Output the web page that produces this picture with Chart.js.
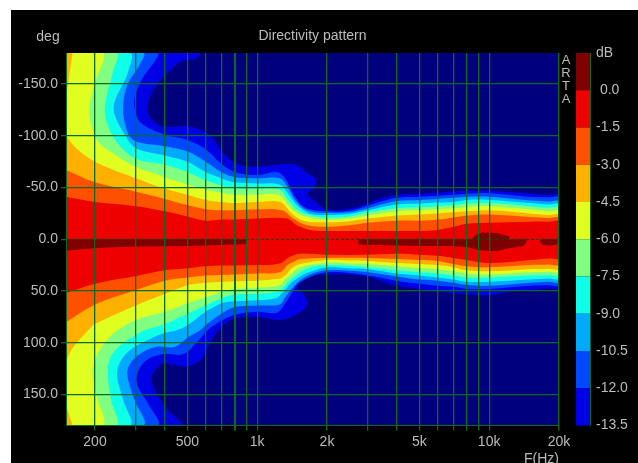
<!DOCTYPE html>
<html>
<head>
<meta charset="utf-8">
<title>Directivity pattern</title>
<script src="https://cdn.jsdelivr.net/npm/chart.js"></script>
<style>
  html, body { margin: 0; padding: 0; background: #fff; }
  #wrap { position: absolute; left: 11px; top: 10px; width: 627px; height: 453px; background: #000; }
</style>
</head>
<body>
<div id="wrap"><canvas id="chart" width="627" height="453"></canvas></div>
<script>
const xTickValues = [200,300,400,500,600,700,800,900,1000,2000,3000,4000,5000,6000,7000,8000,9000,10000,20000];
const xTickLabels = { 200:"200", 500:"500", 1000:"1k", 2000:"2k", 5000:"5k", 10000:"10k", 20000:"20k" };
const yTickValues = [-150,-100,-50,0,50,100,150];
const dbLevels = [0,-1.5,-3,-4.5,-6,-7.5,-9,-10.5,-12,-13.5];
const bandColors = ["#7f0000","#ee0000","#ff5000","#ffb000","#e0ff20","#80ff80","#10ffe8","#00aaff","#0048ff","#0000e6"];

// contour edges, [Hz, deg], low frequency side first
const up135 = [[150,-180],[562,-180],[548,-175],[472,-172],[407,-160],[356,-144],[339,-131],[345,-118],[393,-109],[513,-109],[625,-100],[714,-83],[815,-73],[993,-70],[1212,-72],[1483,-71.6],[1687,-62],[1778,-59],[1772,-50],[1637,-44],[1744,-38],[2000,-29],[2500,-29.5],[3000,-34.5],[3500,-40],[4000,-43],[5000,-44],[6000,-45],[7000,-46],[8000,-47],[10000,-47],[15000,-44],[18000,-43],[20000,-42.5]];
const low135 = [[150,180],[472,180],[407,164],[362,146],[350,133],[368,125],[393,120],[496,123],[575,116],[605,106],[690,86],[788,77],[993,75],[1257,78],[1503,72],[1643,62],[1558,51],[1483,47.7],[1558,41],[1744,35],[2000,34],[2500,34],[3000,36],[3500,41],[4000,45],[5000,48],[6000,50],[7000,52],[8000,53],[10000,54],[12000,51],[15000,49],[18000,47.5],[20000,47]];
const up120 = [[150,-180],[372,-180],[362,-172],[323,-157],[297,-138],[297,-125],[317,-112],[400,-101],[500,-96],[600,-87],[700,-73],[800,-65],[1000,-62],[1216,-65],[1320,-59],[1430,-44],[1600,-31],[2000,-27],[2500,-27.5],[3000,-32.5],[3500,-37],[4000,-40],[5000,-41],[6000,-42],[7000,-43],[8000,-44],[10000,-44.5],[15000,-41],[18000,-40.5],[20000,-40]];
const low120 = [[150,180],[372,180],[339,159],[307,143],[304,130],[333,117],[393,111],[480,111],[557,98],[625,86],[788,73.5],[1000,70],[1212,71],[1320,62],[1434,49],[1503,43],[1693,36.5],[2000,32],[2500,32.5],[3000,35],[4000,40],[5000,43],[6000,45],[7000,46],[8000,48],[10000,48],[15000,45],[18000,44.5],[20000,44]];
const up105 = [[150,-180],[323,-180],[312,-169],[278,-151],[265,-132],[269,-112],[292,-96],[400,-90],[500,-85],[600,-75],[700,-65],[800,-60],[1000,-59],[1250,-59],[1342,-52],[1458,-38],[1637,-28],[2000,-25.5],[2500,-26],[3000,-30],[4000,-37],[5000,-38],[6000,-39],[7000,-40],[8000,-41],[10000,-41],[15000,-37.5],[18000,-36.5],[20000,-36]];
const low105 = [[150,180],[323,180],[297,156],[278,136],[278,124],[307,112],[368,104],[442,104],[505,94.5],[566,88],[600,83],[700,72],[800,65.5],[1000,64],[1250,63],[1320,56],[1411,47.6],[1503,41],[1693,34],[2000,30],[2500,30.5],[3000,32],[4000,36],[5000,39],[6000,40],[7000,42],[8000,44],[10000,45],[15000,42],[18000,41],[20000,40.5]];
const up90 = [[150,-180],[283,-180],[278,-162],[243,-133],[243,-120],[269,-101],[300,-88],[400,-81],[500,-75],[600,-65],[700,-59],[800,-55],[1000,-54],[1250,-53],[1360,-44],[1483,-33],[1670,-25],[2000,-23.5],[2500,-24.5],[3000,-28],[4000,-33.5],[5000,-34.5],[6000,-35.5],[7000,-36],[8000,-38],[10000,-38],[15000,-35],[18000,-33.5],[20000,-33]];
const low90 = [[150,180],[283,180],[265,156],[249,132],[256,119],[283,107],[333,98],[393,91],[449,88],[500,83],[600,70],[700,62],[800,60],[1000,59],[1200,57],[1295,51],[1388,43],[1483,38],[1670,32],[2000,27],[2500,28],[3000,29],[4000,33],[5000,35],[6000,37],[7000,39],[8000,41],[10000,41],[15000,39],[18000,38],[20000,37.5]];
const up75 = [[150,-180],[248,-180],[239,-162],[221,-130],[224,-114],[248,-94],[300,-78],[400,-72],[500,-65],[600,-57],[700,-52],[800,-49],[1000,-49],[1250,-48],[1360,-38],[1503,-28],[1693,-23],[2000,-21],[2500,-22],[3000,-26],[4000,-30],[5000,-31],[6000,-32],[7000,-33],[8000,-34.5],[10000,-35],[15000,-32],[18000,-30.5],[20000,-30]];
const low75 = [[150,180],[248,180],[235,156],[227,130],[232,115],[256,103],[297,93],[328,88],[400,82],[500,72],[600,64],[700,57],[800,53.5],[1000,52.6],[1250,50],[1320,44.5],[1411,38],[1532,32],[1693,27],[2000,25],[2500,25.5],[3000,27],[4000,30],[5000,32],[6000,33],[7000,35],[8000,37],[10000,37],[15000,35],[18000,34.5],[20000,34]];
const up60 = [[150,-180],[217,-180],[200,-152],[189,-126],[193,-110],[207,-94],[239,-83],[300,-70],[400,-60],[500,-53],[600,-48],[700,-45],[800,-43],[1000,-43],[1250,-42.5],[1388,-31],[1558,-23],[2000,-19],[2500,-20],[3000,-23],[4000,-27],[5000,-28],[6000,-29],[7000,-30],[8000,-31],[10000,-32],[15000,-29],[18000,-27],[20000,-26.5]];
const low60 = [[150,180],[217,180],[204,153],[195,130],[198,120],[210,107],[240,91],[300,78],[400,70],[500,62],[600,56],[700,51],[800,48],[1000,47],[1250,44.5],[1320,39],[1411,33],[1532,27],[2000,23],[2500,23.5],[3000,24],[4000,26],[5000,28],[6000,29],[7000,31],[8000,33],[10000,34],[15000,32],[18000,31.5],[20000,31]];
const up45 = [[150,-100],[166,-88],[200,-75],[300,-59],[400,-49],[500,-43],[600,-38],[700,-36],[800,-35],[1000,-36],[1257,-36],[1411,-25],[1580,-18],[2000,-16.5],[2500,-17.5],[3000,-20],[4000,-23],[5000,-24],[6000,-25],[7000,-26],[8000,-27],[10000,-28],[15000,-25],[18000,-23.5],[20000,-23]];
const low45 = [[150,120],[158,107],[187,88],[200,82],[300,64],[400,53],[500,44.5],[600,42],[700,41],[1000,40],[1250,38],[1320,35],[1411,28],[1532,24],[2000,20],[2500,20.5],[3000,21],[4000,23],[5000,24],[6000,25],[7000,27],[8000,30],[10000,31],[15000,29],[18000,28.5],[20000,28]];
const up30 = [[150,-67],[200,-55],[300,-46],[400,-39],[500,-33],[600,-29],[700,-28],[800,-28],[1000,-29],[1277,-28],[1430,-20],[1637,-13.5],[2000,-12],[2500,-13.5],[3000,-16],[4000,-18],[5000,-18],[6000,-19],[7000,-21],[8000,-23],[10000,-24],[15000,-21.5],[18000,-20.5],[20000,-20]];
const low30 = [[150,80],[200,63],[300,49],[400,40],[500,37],[600,35],[800,34],[1000,33],[1250,32],[1360,24.5],[1430,22],[1532,19],[2000,18],[3000,18],[4000,19],[5000,20],[6000,21],[7000,24],[8000,26],[10000,27],[15000,25],[18000,24.5],[20000,24]];
const up15 = [[150,-41],[200,-36],[300,-32],[400,-27],[500,-22],[600,-18],[700,-19],[800,-19],[1000,-20],[1342,-20],[1483,-13.5],[1693,-9],[2000,-8],[3000,-8],[4000,-8],[5000,-8],[6000,-9],[7000,-12],[8000,-15],[10000,-16],[15000,-17],[18000,-17],[20000,-17]];
const low15 = [[150,52],[200,43],[300,35.5],[400,30],[500,28],[600,26],[1000,25],[1250,23.5],[1383,17],[1532,14],[2000,15],[3000,15],[4000,14],[5000,15],[6000,16],[7000,18],[8000,20],[10000,23],[15000,20],[18000,18.5],[20000,18]];

// closed pieces that don't run across the whole plot
const corner45Top = [[150,-180],[160,-180],[153,-150],[150,-137]];
const corner45Bottom = [[150,160],[160,180],[150,180]];
const peakLeft = [[150,0],[903,0],[903,4.8],[800,5],[500,6.5],[300,7],[200,8.5],[150,11]];
const peakMid = [[2730,0],[8400,0],[8720,-4],[9300,-6.5],[10800,-6],[12200,-3],[12200,0],[14500,0],[14500,3],[14040,6.5],[11930,9],[10800,11.5],[8990,10.6],[8020,7.5],[6780,6.5],[4876,6.5],[2730,5]];
const peakRight = [[16600,0],[19700,0],[19700,5],[18500,6],[17000,5.5],[16600,3]];

const toPoints = (list) => list.map(([x, y]) => ({ x, y }));
const ring = (up, low) => toPoints(up.concat(low.slice().reverse()));

// biggest region first, each next one paints on top of it
const regions = [
  { color: bandColors[9], points: ring(up135, low135), tension: 0.35 },
  { color: bandColors[8], points: ring(up120, low120), tension: 0.35 },
  { color: bandColors[7], points: ring(up105, low105), tension: 0.35 },
  { color: bandColors[6], points: ring(up90, low90), tension: 0.35 },
  { color: bandColors[5], points: ring(up75, low75), tension: 0.35 },
  { color: bandColors[4], points: ring(up60, low60), tension: 0.35 },
  { color: bandColors[3], points: ring(up45, low45), tension: 0.35 },
  { color: bandColors[3], points: toPoints(corner45Top), tension: 0 },
  { color: bandColors[3], points: toPoints(corner45Bottom), tension: 0 },
  { color: bandColors[2], points: ring(up30, low30), tension: 0.35 },
  { color: bandColors[1], points: ring(up15, low15), tension: 0.35 },
  { color: bandColors[0], points: toPoints(peakLeft), tension: 0 },
  { color: bandColors[0], points: toPoints(peakMid), tension: 0 },
  { color: bandColors[0], points: toPoints(peakRight), tension: 0 },
];

const gridGreen = "#0b6a20";
const textGrey = "#bcbcbc";
const labelFont = { family: "'Liberation Sans', Arial, sans-serif", size: 14 };

const datasets = regions.map((r, i) => ({
  label: "region" + i,
  polygon: true,
  data: r.points,
  backgroundColor: r.color,
  tension: r.tension,
  borderWidth: 0,
  pointRadius: 0,
  showLine: true,
  order: regions.length - i,
}));

datasets.push({
  label: "zero",
  data: [{ x: 150, y: 0 }, { x: 20000, y: 0 }],
  borderColor: "#0a4a14",
  borderWidth: 1,
  borderDash: [3, 2],
  pointRadius: 0,
  showLine: true,
  order: 0,
});

const contourPlugin = {
  id: "contourFill",
  beforeDatasetsDraw(chart) {
    const { ctx, chartArea: a } = chart;
    ctx.save();
    ctx.fillStyle = "#00007f";
    ctx.fillRect(a.left, a.top, a.right - a.left, a.bottom - a.top);
    ctx.restore();
  },
  beforeDatasetDraw(chart, args) {
    if (!args.meta._dataset.polygon) return;
    const { ctx, chartArea: a } = chart;
    ctx.save();
    ctx.beginPath();
    ctx.rect(a.left, a.top, a.right - a.left, a.bottom - a.top);
    ctx.clip();
    ctx.beginPath();
    args.meta.dataset.path(ctx);
    ctx.closePath();
    ctx.fillStyle = args.meta._dataset.backgroundColor;
    ctx.fill();
    ctx.restore();
  },
  afterDraw(chart) {
    const { ctx, chartArea: a } = chart;
    const db = chart.scales.db;
    const barLeft = a.right + 17;
    const barRight = a.right + 31;
    ctx.save();
    // colour bar, one block per dB step
    const edges = [1.5].concat(dbLevels);
    bandColors.forEach((c, i) => {
      const y0 = db.getPixelForValue(edges[i]);
      const y1 = db.getPixelForValue(edges[i + 1]);
      ctx.fillStyle = c;
      ctx.fillRect(barLeft, y0, barRight - barLeft, y1 - y0);
    });
    ctx.strokeStyle = gridGreen;
    ctx.beginPath();
    ctx.moveTo(barRight + 0.5, a.top);
    ctx.lineTo(barRight + 0.5, a.bottom);
    ctx.stroke();

    ctx.fillStyle = textGrey;
    ctx.font = "14px 'Liberation Sans', Arial, sans-serif";
    ctx.textBaseline = "middle";
    ctx.textAlign = "center";
    ctx.fillText("deg", 37, 27);
    ctx.font = "13px 'Liberation Sans', Arial, sans-serif";
    ["A", "R", "T", "A"].forEach((ch, i) => ctx.fillText(ch, a.right + 7, a.top + 7 + i * 13));
    ctx.restore();
  },
};

// tick labels at the ends of the axes must not shrink the plot
const noEdgePadding = (s) => {
  s.paddingTop = 0;
  s.paddingBottom = 0;
  s.paddingLeft = 0;
  s.paddingRight = 0;
};

new Chart(document.getElementById("chart").getContext("2d"), {
  type: "scatter",
  data: { datasets },
  plugins: [contourPlugin],
  options: {
    responsive: false,
    animation: false,
    events: [],
    layout: { padding: 0 },
    plugins: {
      legend: { display: false },
      tooltip: { enabled: false },
      title: {
        display: true,
        text: "Directivity pattern",
        color: textGrey,
        fullSize: false,
        font: { family: labelFont.family, size: 14, weight: "normal" },
        padding: { top: 18, bottom: 8.2 },
      },
    },
    scales: {
      x: {
        type: "logarithmic",
        min: 150,
        max: 20000,
        afterBuildTicks: (s) => { s.ticks = xTickValues.map((v) => ({ value: v })); },
        afterFit: (s) => { s.height = 37.5; noEdgePadding(s); },
        grid: { color: gridGreen, z: 1, tickLength: 5, lineWidth: (c) => (c.tick && c.tick.value === 800 ? 2 : 1.3) },
        border: { color: gridGreen, z: 1 },
        ticks: {
          color: textGrey,
          font: labelFont,
          padding: 3,
          autoSkip: false,
          maxRotation: 0,
          callback: (v) => xTickLabels[v] || "",
        },
        title: { display: true, text: "F(Hz)", align: "end", color: textGrey, font: labelFont, padding: { top: 0, bottom: -5 } },
      },
      y: {
        type: "linear",
        reverse: true,
        min: -180,
        max: 180,
        afterBuildTicks: (s) => { s.ticks = yTickValues.map((v) => ({ value: v })); },
        afterFit: (s) => { s.width = 55; noEdgePadding(s); },
        grid: {
          color: (c) => (c.tick && c.tick.value === 0 ? "transparent" : gridGreen),
          tickColor: gridGreen,
          lineWidth: 1.3,
          z: 1,
          tickLength: 5,
        },
        border: { color: gridGreen, z: 1 },
        ticks: { color: textGrey, font: labelFont, padding: 3, callback: (v) => v.toFixed(1) },
      },
      db: {
        type: "linear",
        position: "right",
        min: -13.5,
        max: 1.5,
        afterBuildTicks: (s) => { s.ticks = [1.5].concat(dbLevels).map((v) => ({ value: v })); },
        afterFit: (s) => { s.width = 79; noEdgePadding(s); },
        grid: { display: false, drawTicks: false },
        border: { display: false },
        ticks: {
          color: textGrey,
          font: labelFont,
          padding: 37,
          callback: (v) => (v === 1.5 ? "dB" : v === 0 ? " 0.0" : v.toFixed(1)),
        },
      },
    },
  },
});
</script>
</body>
</html>
